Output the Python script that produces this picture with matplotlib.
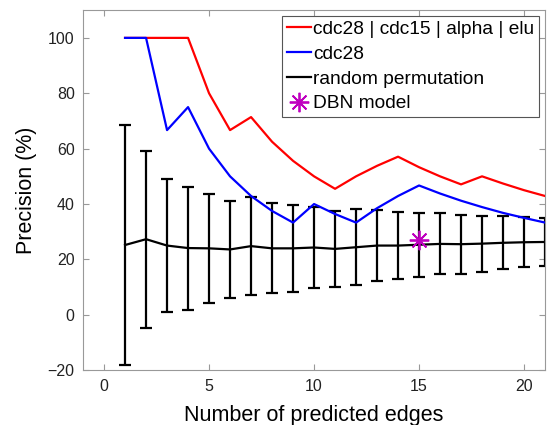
import matplotlib
matplotlib.use("Agg")
import matplotlib.pyplot as plt
from matplotlib.lines import Line2D
import numpy as np

plt.rcParams['font.family'] = ['Liberation Sans', 'DejaVu Sans']

edges = np.arange(1, 22)

# precision (%) for the combined data sets
prec_all = [100, 100, 100, 100, 80, 66.7, 71.4, 62.5, 55.6, 50, 45.5,
            50, 53.8, 57.1, 53.3, 50, 47.1, 50, 47.4, 45, 42.9]
# precision (%) for cdc28 only
prec_cdc28 = [100, 100, 66.7, 75, 60, 50, 42.9, 37.5, 33.3, 40, 36.4,
              33.3, 38.5, 42.9, 46.7, 43.8, 41.2, 38.9, 36.8, 35, 33.3]
# random permutation mean and spread
rand_mean = [25.2, 27.3, 25, 24.1, 24, 23.6, 24.8, 24, 24, 24.3, 23.8,
             24.4, 25, 25, 25.3, 25.6, 25.5, 25.7, 26, 26.2, 26.3]
rand_err = [43.5, 32, 24, 22.2, 19.8, 17.6, 17.6, 16.3, 15.7, 14.8, 13.6,
            13.7, 12.8, 12.1, 11.5, 11, 10.6, 10.1, 9.5, 9, 8.6]

dbn_x = [15]
dbn_y = [27]

fig = plt.figure(figsize=(5.5, 4.25), dpi=100)
ax = fig.add_axes([0.151, 0.129, 0.840, 0.847])

ax.plot(edges, prec_all, color='#ff0000', lw=1.6, zorder=3)
ax.plot(edges, prec_cdc28, color='#0000ff', lw=1.6, zorder=4)
ax.errorbar(edges, rand_mean, yerr=rand_err, color='black', lw=1.6,
            elinewidth=1.6, capsize=4.5, capthick=1.6, zorder=2)
ax.plot(dbn_x, dbn_y, linestyle='none', marker=(8, 2, 0), markersize=14,
        markeredgewidth=1.3, color='#bf00bf', zorder=5)

ax.set_xlim(-1, 21)
ax.set_ylim(-20, 110)
ax.set_xticks([0, 5, 10, 15, 20])
ax.set_yticks([-20, 0, 20, 40, 60, 80, 100])
ax.tick_params(direction='in', top=True, right=True, length=4, color='#999999',
               labelsize=11.5, labelcolor='#222222', pad=6)
for sp in ax.spines.values():
    sp.set_color('#999999')

ax.set_xlabel('Number of predicted edges', fontsize=15.5, labelpad=8)
ax.set_ylabel('Precision (%)', fontsize=15.5, labelpad=8)

# legend entries
labels = ['cdc28 | cdc15 | alpha | elu', 'cdc28', 'random permutation', 'DBN model']
handles = [Line2D([], [], color='#ff0000', lw=1.6),
           Line2D([], [], color='#0000ff', lw=1.6),
           Line2D([], [], color='black', lw=1.6),
           Line2D([], [], linestyle='none', marker=(8, 2, 0), markersize=14,
                  markeredgewidth=1.3, color='#bf00bf')]
leg = ax.legend(handles, labels, loc='upper right', fontsize=13.8,
                fancybox=False, framealpha=1, edgecolor='#555555',
                handlelength=1.25, handletextpad=0.15, borderaxespad=0.3,
                labelspacing=0.38, borderpad=0.25)
leg.get_frame().set_linewidth(0.8)

fig.savefig('out.png', dpi=100)
